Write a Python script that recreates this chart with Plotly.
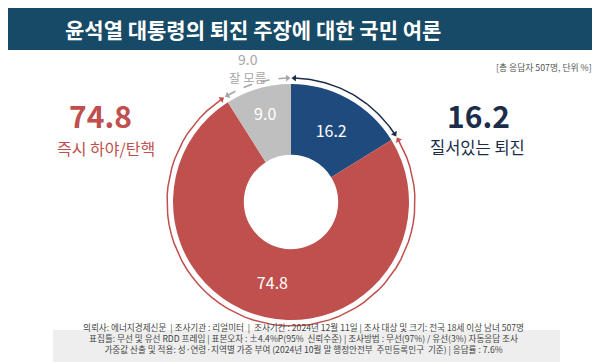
import math
import plotly.graph_objects as go

# ---- data ----
labels = ["질서있는 퇴진", "즉시 하야/탄핵", "잘 모름"]
values = [16.2, 74.8, 9.0]
colors = ["#1f4a7d", "#c0504d", "#bfbfbf"]
arc_colors = ["#1b2d4a", "#c0504d", "#a6a6a6"]
title_text = "윤석열 대통령의 퇴진 주장에 대한 국민 여론"
unit_text = "[총 응답자 507명, 단위 %]"
footer_lines = [
    "의뢰사: 에너지경제신문  | 조사기관 : 리얼미터  |  조사기간 : 2024년 12월 11일 | 조사 대상 및 크기: 전국 18세 이상 남녀 507명",
    "표집틀: 무선 및 유선 RDD 프레임 | 표본오차 : ±4.4%P(95%  신뢰수준) | 조사방법 : 무선(97%) / 유선(3%) 자동응답 조사",
    "가중값 산출 및 적용: 성·연령·지역별 가중 부여 (2024년 10월 말 행정안전부  주민등록인구  기준) | 응답률 : 7.6%",
]

W, H = 600, 362
CX, CY, R = 283, 194, 118
ARC_R = 124
FONT = "Noto Sans CJK KR"

fig = go.Figure()

# donut
fig.add_trace(go.Pie(
    labels=labels, values=values, sort=False, direction="clockwise", rotation=0,
    hole=0.40, marker=dict(colors=colors, line=dict(width=0)),
    texttemplate="%{value:.1f}", textposition="inside", insidetextorientation="horizontal",
    textfont=dict(color="white", size=16, family=FONT),
    domain=dict(x=[(CX - R) / W, (CX + R) / W], y=[(H - CY - R) / H, (H - CY + R) / H]),
    showlegend=False, hoverinfo="label+value",
))

# outer arcs with arrowheads
total = sum(values)
start = 0.0
gap = 1.6
for v, col, i in zip(values, arc_colors, range(3)):
    a0 = start + gap
    a1 = start + v / total * 360 - gap
    n = 60
    angs = [a0 + (a1 - a0) * k / n for k in range(n + 1)]
    xs = [CX + ARC_R * math.sin(math.radians(a)) for a in angs]
    ys = [CY - ARC_R * math.cos(math.radians(a)) for a in angs]
    fig.add_trace(go.Scatter(
        x=xs, y=ys, mode="lines",
        line=dict(color=col, width=1.5, dash="dash" if i == 2 else "solid"),
        showlegend=False, hoverinfo="skip"))
    fig.add_trace(go.Scatter(
        x=[xs[0], xs[-1]], y=[ys[0], ys[-1]], mode="markers",
        marker=dict(symbol="triangle-up", size=6, color=col,
                    angle=[a0 - 90, a1 + 90], line=dict(width=0)),
        showlegend=False, hoverinfo="skip"))
    start += v / total * 360

shapes = [
    dict(type="rect", xref="x", yref="y", x0=0, x1=W, y0=0, y1=42,
         fillcolor="#174a66", line=dict(width=0), layer="below"),
    dict(type="rect", xref="x", yref="y", x0=45, x1=552, y0=322, y1=360,
         fillcolor="#eeeeee", line=dict(width=0), layer="below"),
]

ann = [
    dict(x=245, y=21, text="<b>" + title_text + "</b>", font=dict(size=21, color="white", family=FONT)),
    dict(x=586, y=59, text=unit_text, xanchor="right", font=dict(size=8.8, color="#555555", family=FONT)),
    dict(x=92, y=107, text="<b>%.1f</b>" % values[1], font=dict(size=30, color=colors[1], family=FONT)),
    dict(x=98, y=140, text=labels[1], font=dict(size=16, color=colors[1], family=FONT)),
    dict(x=470, y=107, text="<b>%.1f</b>" % values[0], font=dict(size=30, color="#1b2d4a", family=FONT)),
    dict(x=469, y=139, text=labels[0], font=dict(size=16.5, color="#1b2d4a", family=FONT)),
    dict(x=240, y=51, text="%.1f" % values[2], font=dict(size=14, color="#a6a6a6", family=FONT)),
    dict(x=239, y=69, text=labels[2], font=dict(size=12.5, color="#a6a6a6", family=FONT)),
    dict(x=295, y=330.5, text="<br>".join(footer_lines), align="center",
         font=dict(size=8.6, color="#444444", family=FONT)),
]
for a in ann:
    a.update(xref="x", yref="y", showarrow=False, yanchor="middle")
    a.setdefault("xanchor", "center")

fig.update_layout(
    width=W, height=H, margin=dict(l=0, r=0, t=0, b=0),
    paper_bgcolor="white", plot_bgcolor="white",
    xaxis=dict(range=[0, W], visible=False, fixedrange=True),
    yaxis=dict(range=[H, 0], visible=False, fixedrange=True),
    shapes=shapes, annotations=ann,
)
fig.write_html("out.html")
